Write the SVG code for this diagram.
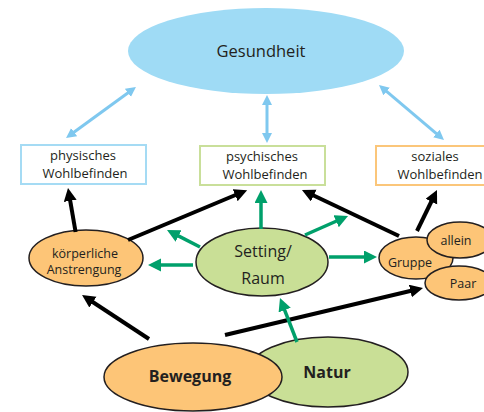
<svg xmlns="http://www.w3.org/2000/svg" width="484" height="412" viewBox="0 0 484 412">
<defs>
<style>
text{font-family:"Open Sans","DejaVu Sans",sans-serif;fill:#231f20;text-anchor:middle}
.box{fill:#fff;stroke-width:2}
.oval{stroke:#231f20;stroke-width:1.5}
.or{fill:#fdc577}
.gr{fill:#c9df96}
.blk{stroke:#000;stroke-width:4;fill:none}
.grn{stroke:#00a06b;stroke-width:3.5;fill:none}
.blu{stroke:#7fc8ef;stroke-width:3;fill:none}
</style>
<marker id="hb" markerUnits="userSpaceOnUse" markerWidth="14" markerHeight="14" refX="3" refY="6.5" orient="auto"><path d="M0,0 L13,6.5 L0,13 z" fill="#000"/></marker>
<marker id="hg" markerUnits="userSpaceOnUse" markerWidth="14" markerHeight="14" refX="3" refY="6.5" orient="auto"><path d="M0,0 L13,6.5 L0,13 z" fill="#00a06b"/></marker>
<marker id="hl" markerUnits="userSpaceOnUse" markerWidth="12" markerHeight="12" refX="2" refY="5" orient="auto-start-reverse"><path d="M0,0 L10,5 L0,10 z" fill="#7fc8ef"/></marker>
</defs>
<g id="gesundheit"><ellipse cx="266" cy="51" rx="138" ry="43" fill="#9fdbf5"/><text x="261" y="57" font-size="16.5">Gesundheit</text></g>
<g id="physisches"><rect class="box" x="21" y="145" width="125" height="39" stroke="#a5dbf4"/><text x="83" y="160" font-size="13">physisches</text><text x="85" y="177.5" font-size="13">Wohlbefinden</text></g>
<g id="psychisches"><rect class="box" x="200" y="146" width="125" height="39" stroke="#c9df9a"/><text x="262" y="161" font-size="13">psychisches</text><text x="265" y="178.5" font-size="13">Wohlbefinden</text></g>
<g id="soziales"><rect class="box" x="376" y="146" width="112" height="39" stroke="#fbc67a"/><text x="435" y="161" font-size="13">soziales</text><text x="440" y="178.5" font-size="13">Wohlbefinden</text></g>
<g id="natur"><ellipse class="oval gr" cx="328" cy="372" rx="80" ry="35"/><text x="327" y="378" font-size="16" font-weight="bold">Natur</text></g>
<g id="bewegung"><ellipse class="oval or" cx="193" cy="377" rx="89" ry="34"/><text x="190" y="382" font-size="16" font-weight="bold">Bewegung</text></g>
<g id="koerperliche"><ellipse class="oval or" cx="86" cy="258" rx="57" ry="28"/><text x="85" y="258" font-size="12.5">körperliche</text><text x="84" y="274" font-size="12.5">Anstrengung</text></g>
<g id="setting"><ellipse class="oval gr" cx="262" cy="262" rx="66" ry="34"/><text x="263" y="257" font-size="16">Setting/</text><text x="263" y="284" font-size="16">Raum</text></g>
<g id="gruppe"><ellipse class="oval or" cx="416" cy="258" rx="37" ry="21"/><text x="410" y="267" font-size="12.5">Gruppe</text></g>
<g id="allein"><ellipse class="oval or" cx="460" cy="240" rx="33" ry="18"/><text x="456" y="245" font-size="12.5">allein</text></g>
<g id="paar"><ellipse class="oval or" cx="459" cy="283" rx="34" ry="17"/><text x="463" y="288" font-size="12.5">Paar</text></g>
<g id="connectors">
<line class="blu" x1="72.5" y1="133.3" x2="129.5" y2="91.7" marker-start="url(#hl)" marker-end="url(#hl)"/>
<line class="blu" x1="267" y1="103" x2="267" y2="135" marker-start="url(#hl)" marker-end="url(#hl)"/>
<line class="blu" x1="385.1" y1="90.2" x2="437.9" y2="134.8" marker-start="url(#hl)" marker-end="url(#hl)"/>
<line class="blk" x1="75.6" y1="232" x2="69.7" y2="197.9" marker-end="url(#hb)"/>
<line class="blk" x1="128" y1="240" x2="237.9" y2="194" marker-end="url(#hb)"/>
<line class="blk" x1="399" y1="236" x2="311" y2="194.3" marker-end="url(#hb)"/>
<line class="blk" x1="417" y1="231" x2="432.6" y2="199" marker-end="url(#hb)"/>
<line class="blk" x1="149" y1="339" x2="90.4" y2="300.5" marker-end="url(#hb)"/>
<line class="blk" x1="225" y1="335" x2="413.3" y2="290.3" marker-end="url(#hb)"/>
<line class="grn" x1="261" y1="229" x2="261" y2="200" marker-end="url(#hg)"/>
<line class="grn" x1="305" y1="235" x2="338.9" y2="220" marker-end="url(#hg)"/>
<line class="grn" x1="200" y1="247" x2="175.9" y2="234.6" marker-end="url(#hg)"/>
<line class="grn" x1="193" y1="265" x2="158" y2="265" marker-end="url(#hg)"/>
<line class="grn" x1="329" y1="257" x2="367" y2="257" marker-end="url(#hg)"/>
<line class="grn" x1="297" y1="342" x2="283.6" y2="307.3" marker-end="url(#hg)"/>
</g>
</svg>
